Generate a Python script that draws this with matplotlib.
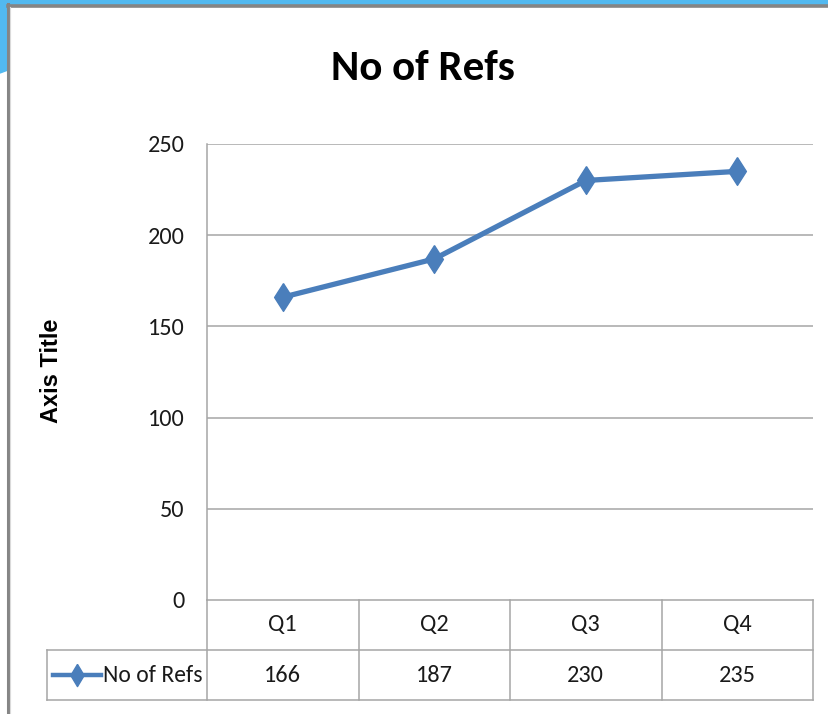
import matplotlib.pyplot as plt
import numpy as np
from matplotlib import transforms
from matplotlib.patches import Polygon, Rectangle
from matplotlib.lines import Line2D

# data
quarters = ["Q1", "Q2", "Q3", "Q4"]
refs = [166, 187, 230, 235]
series_name = "No of Refs"
yticks = [0, 50, 100, 150, 200, 250]

W, H = 829, 714
blue = "#4A7EBB"
grid_c = "#A6A6A6"
calibri = ["Carlito", "DejaVu Sans"]
txt_c = "#1A1A1A"
fs = 17.5

fig = plt.figure(figsize=(W / 100, H / 100), dpi=100)

def fx(px):
    return px / W

def fy(py):
    return 1 - py / H

# slide background bits (blue) and frame
fig.patches.append(Rectangle((0, fy(5)), 1, 5 / H, transform=fig.transFigure,
                             color="#52B9F0", zorder=0))
fig.patches.append(Polygon([(0, fy(0)), (fx(8), fy(0)), (fx(8), fy(70)), (0, fy(73))],
                           closed=True, transform=fig.transFigure, color="#52B9F0", zorder=0))
fig.add_artist(Line2D([fx(8), fx(8)], [fy(4), 0], color="#858585", lw=2.2))
fig.add_artist(Line2D([fx(8), 1], [fy(5.5), fy(5.5)], color="#858585", lw=2.6))
fig.add_artist(Line2D([fx(10), fx(10)], [fy(7), 0], color="#DADADA", lw=0.8))

# plot area
left, right, top, bottom = 207, 813, 144, 600
ax = fig.add_axes([fx(left), fy(bottom), (right - left) / W, (bottom - top) / H])
x = np.arange(len(quarters)) + 0.5
ax.set_xlim(0, len(quarters))
ax.set_ylim(0, 250)

ax.plot(x, refs, color=blue, lw=3.8, zorder=3, solid_joinstyle="round",
        marker=[(0, 1), (0.64, 0), (0, -1), (-0.64, 0), (0, 1)], markersize=20,
        markerfacecolor=blue, markeredgecolor=blue, clip_on=False)

ax.set_yticks(yticks)
ax.set_yticklabels([str(v) for v in yticks], family=calibri, fontsize=fs, color=txt_c)
ax.set_xticks([])
ax.tick_params(axis="y", length=0, pad=16)
for v in yticks[1:]:
    ax.axhline(v, color=grid_c, lw=1.1, zorder=1)
for s in ["top", "right", "bottom"]:
    ax.spines[s].set_visible(False)
ax.spines["left"].set_color(grid_c)
ax.spines["left"].set_linewidth(1.1)

# data table under the plot
tr = transforms.blended_transform_factory(ax.transData, ax.transAxes)
row_h = 50 / (bottom - top)
n = len(quarters)
key_left = (47 - left) / (right - left) * n

def tline(xs, ys):
    ax.add_line(Line2D(xs, ys, transform=tr, color=grid_c, lw=1.1, clip_on=False))

tline([0, n], [0, 0])
tline([key_left, n], [-row_h, -row_h])
tline([key_left, n], [-2 * row_h, -2 * row_h])
for i in range(n + 1):
    tline([i, i], [0, -2 * row_h])
tline([key_left, key_left], [-row_h, -2 * row_h])

for i, (q, v) in enumerate(zip(quarters, refs)):
    ax.text(i + 0.5, -0.5 * row_h, q, transform=tr, ha="center", va="center",
            family=calibri, fontsize=fs, color=txt_c)
    ax.text(i + 0.5, -1.5 * row_h, str(v), transform=tr, ha="center", va="center",
            family=calibri, fontsize=fs, color=txt_c)

# legend key inside the table
kx0 = (53 - left) / (right - left) * n
kx1 = (101 - left) / (right - left) * n
ax.add_line(Line2D([kx0, kx1], [-1.5 * row_h] * 2, transform=tr, color=blue, lw=3.2,
                   clip_on=False))
ax.add_line(Line2D([(kx0 + kx1) / 2], [-1.5 * row_h], transform=tr, color=blue,
                   marker=[(0, 1), (0.6, 0), (0, -1), (-0.6, 0), (0, 1)], markersize=16,
                   clip_on=False))
ax.text(kx1 + 0.01, -1.5 * row_h, series_name, transform=tr, ha="left", va="center",
        family=calibri, fontsize=17, color=txt_c)

# titles
fig.text(fx(423), fy(68), "No of Refs", ha="center", va="center", family=calibri,
         fontsize=31, fontweight="bold", color="black")
fig.text(fx(52), fy(371), "Axis Title", ha="center", va="center", rotation=90,
         family=["Liberation Sans", "DejaVu Sans"], fontsize=17, fontweight="bold",
         color="black")

fig.savefig("out.png", dpi=100)
